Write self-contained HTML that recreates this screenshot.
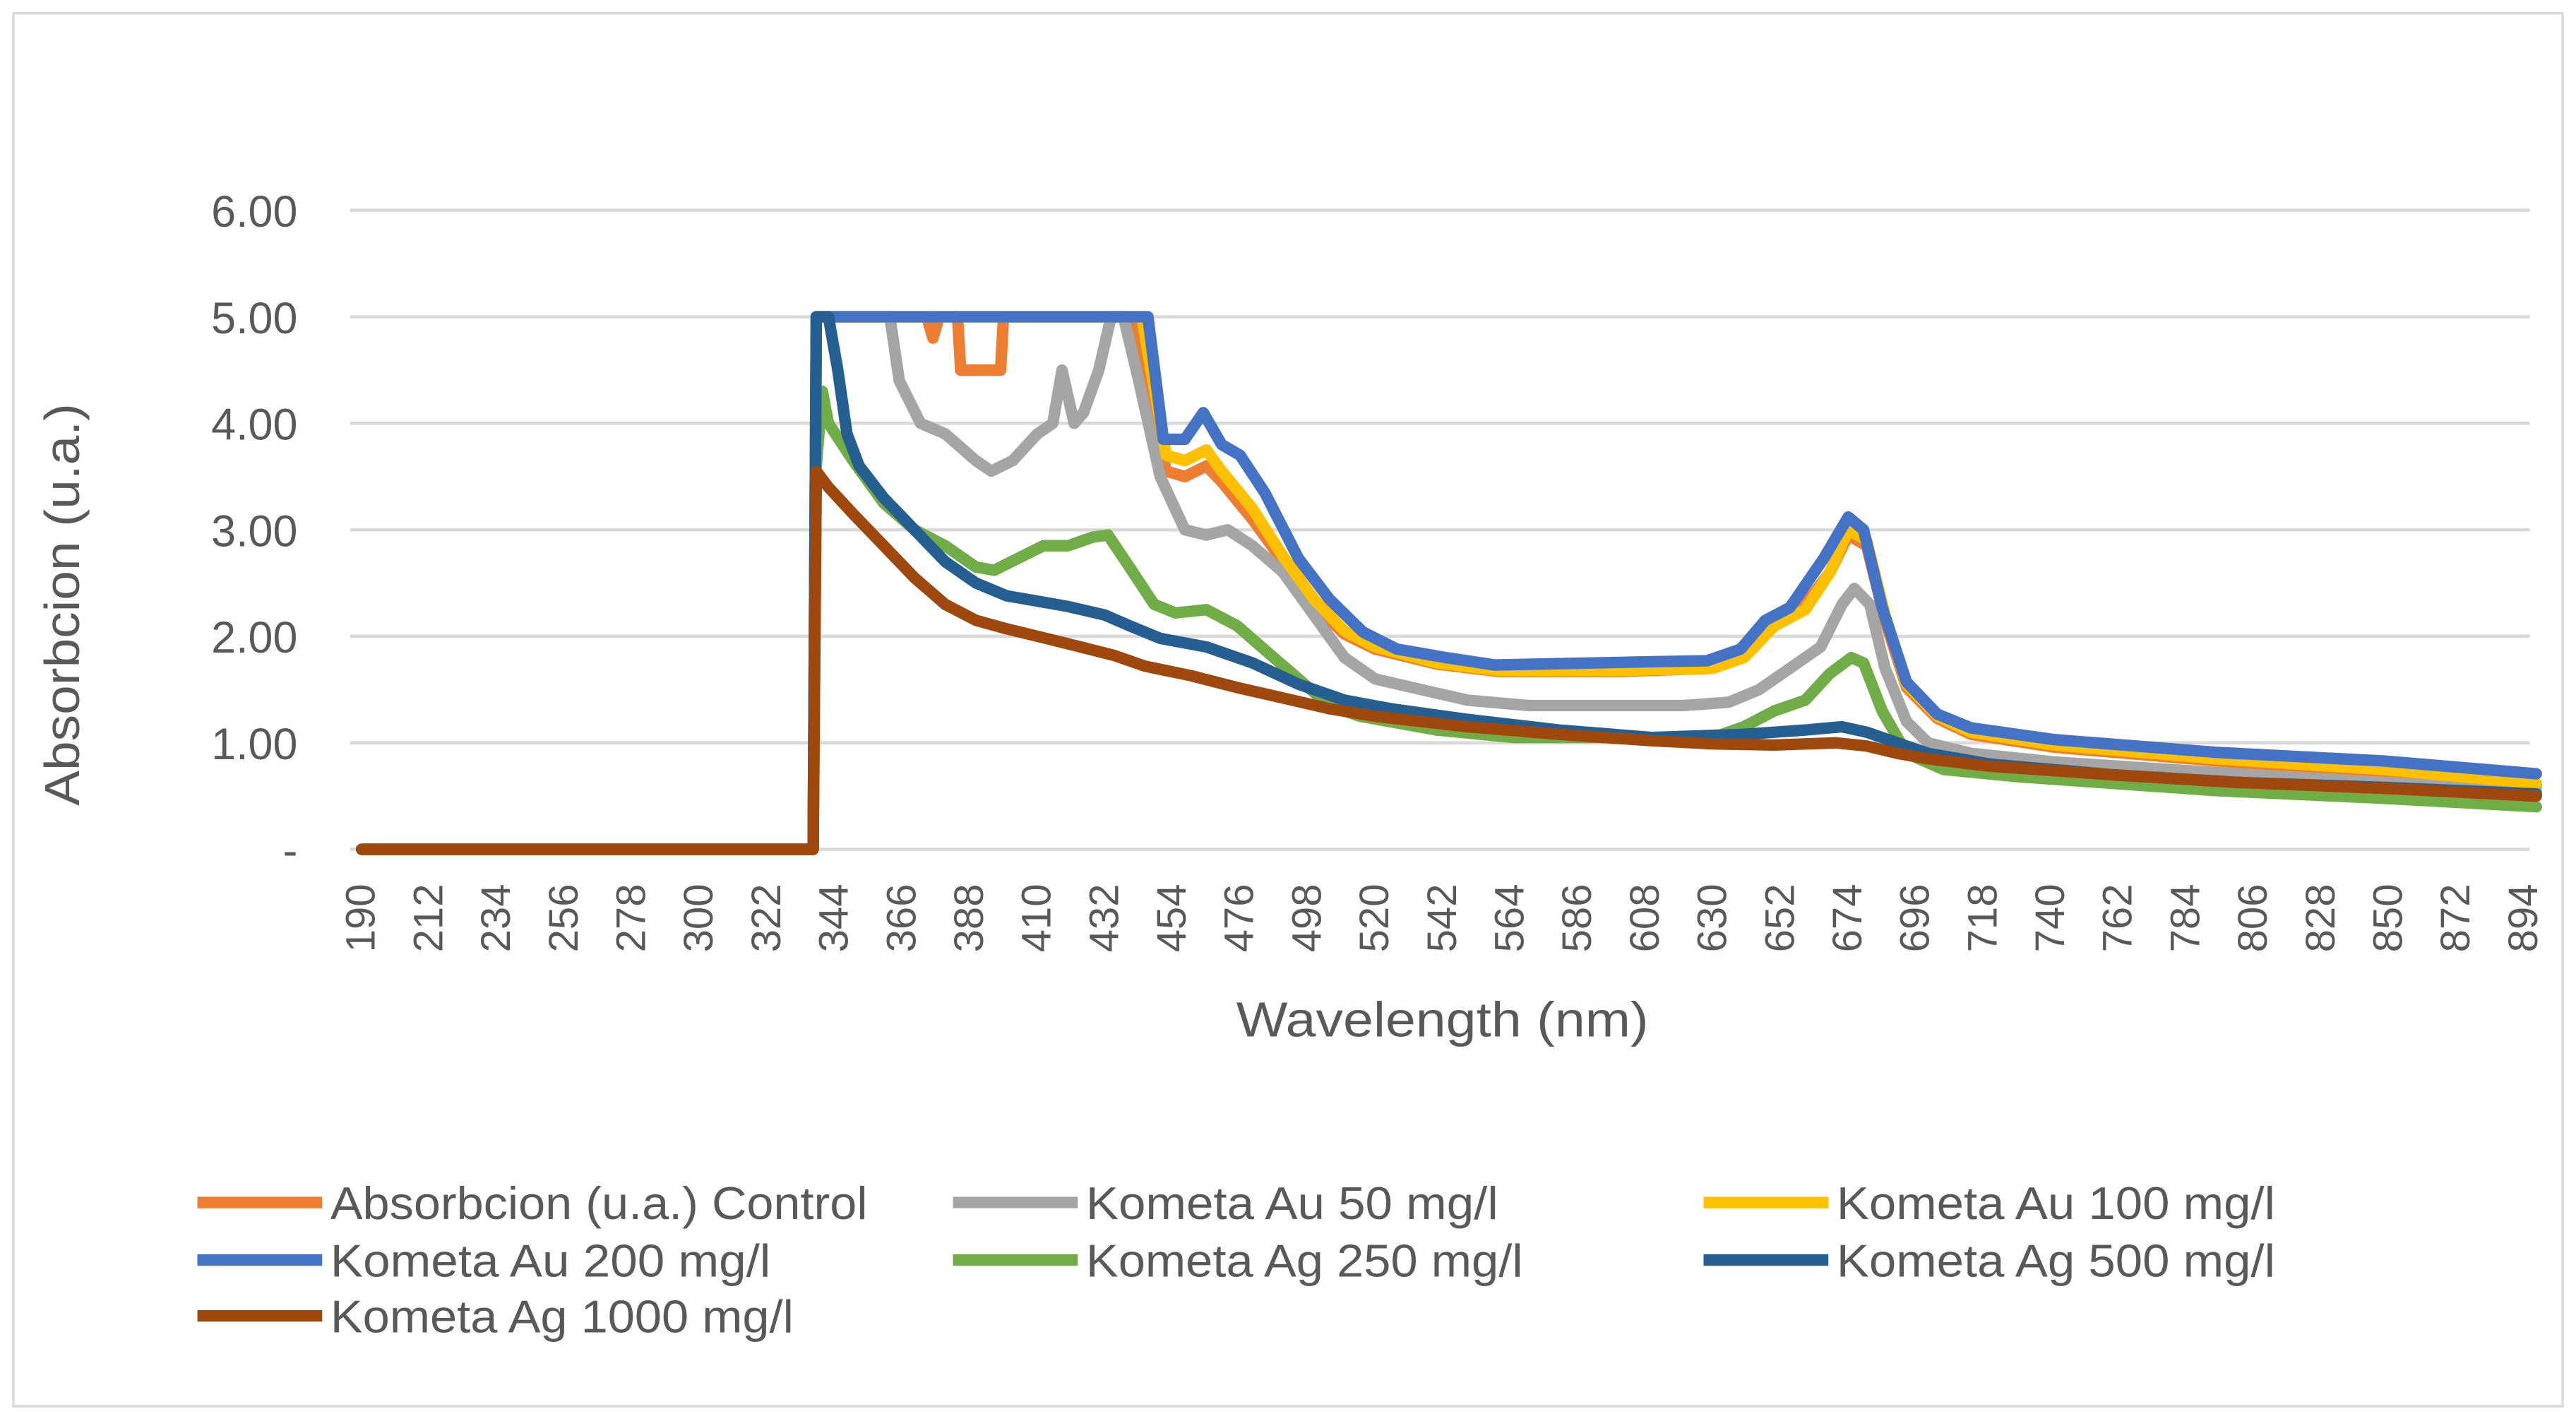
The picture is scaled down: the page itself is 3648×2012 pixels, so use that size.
<!DOCTYPE html>
<html><head><meta charset="utf-8"><style>
html,body{margin:0;padding:0;background:#fff}
svg{display:block}
text{font-family:"Liberation Sans",sans-serif}
</style></head><body>
<svg id="chart" width="3648" height="2012" viewBox="0 0 1568 865" xmlns="http://www.w3.org/2000/svg">
<rect x="8" y="8" width="1552" height="848" fill="#fff" stroke="#d9d9d9" stroke-width="1.5"/>
<g id="grid"></g>
<g id="yticks"></g>
<g id="xticks"></g>
<g id="series"></g>
<text x="0" y="0" transform="translate(48,368) rotate(-90)" text-anchor="middle" font-size="30" fill="#595959" textLength="245" lengthAdjust="spacingAndGlyphs">Absorbcion (u.a.)</text>
<text x="878" y="631" text-anchor="middle" font-size="30" fill="#595959" textLength="251" lengthAdjust="spacingAndGlyphs">Wavelength (nm)</text>
<g id="legend"></g>
</svg>
<script>
const yTicks=[0,1,2,3,4,5,6];
const yTickLabels=["-","1.00","2.00","3.00","4.00","5.00","6.00"];
const xTickValues=[190,212,234,256,278,300,322,344,366,388,410,432,454,476,498,520,542,564,586,608,630,652,674,696,718,740,762,784,806,828,850,872,894];
const seriesNames=["Absorbcion (u.a.) Control","Kometa Au 50 mg/l","Kometa Au 100 mg/l","Kometa Au 200 mg/l","Kometa Ag 250 mg/l","Kometa Ag 500 mg/l","Kometa Ag 1000 mg/l"];
const seriesColors=["#ED7D31","#A5A5A5","#FFC000","#4472C4","#70AD47","#255E91","#9E480E"];

const controlX=[190,337,338,374,376,378,384,385,398,399,442,446,452,458,465,470,480,490,500,510,520,540,560,600,630,640,650,660,668,674,680,686,693,703,714,741,794,848,898];
const controlY=[0,0,5,5,4.8,5,5,4.5,4.5,5,5,4.3,3.55,3.5,3.6,3.45,3.1,2.7,2.3,2.02,1.88,1.74,1.67,1.67,1.7,1.82,2.15,2.3,2.6,2.95,2.85,2.15,1.52,1.23,1.08,0.96,0.83,0.72,0.6];
const au50X=[190,337,338,362,365,372,380,390,395,402,410,415,418,422,425,430,434,438,443,450,458,465,472,480,490,500,510,520,535,550,570,620,635,645,655,665,672,676,681,686,693,700,714,741,794,848,898];
const au50Y=[0,0,5,5,4.4,4.0,3.9,3.65,3.55,3.65,3.9,4.0,4.5,4.0,4.1,4.5,5,5,4.4,3.5,3.0,2.95,3.0,2.85,2.6,2.2,1.8,1.6,1.5,1.4,1.35,1.35,1.38,1.5,1.7,1.9,2.3,2.45,2.3,1.7,1.2,1.0,0.9,0.82,0.72,0.63,0.55];
const au100X=[190,337,338,444,447,452,458,465,470,480,490,500,510,520,540,560,600,630,640,650,660,668,674,680,686,693,703,714,741,794,848,898];
const au100Y=[0,0,5,5,4.5,3.7,3.65,3.75,3.55,3.2,2.75,2.35,2.05,1.9,1.75,1.68,1.68,1.7,1.8,2.1,2.25,2.6,3.0,2.9,2.2,1.55,1.25,1.1,0.98,0.85,0.75,0.62];
const au200X=[190,337,338,446,451,458,464,470,476,484,495,505,516,527,543,559,607,628,639,647,655,666,674,679,685,693,703,714,741,794,848,898];
const au200Y=[0,0,5,5,3.85,3.85,4.1,3.8,3.7,3.35,2.73,2.35,2.04,1.88,1.8,1.73,1.76,1.77,1.88,2.15,2.27,2.73,3.12,3.0,2.27,1.57,1.27,1.14,1.03,0.91,0.83,0.71];
const ag250X=[190,337,338,340,342,350,360,370,380,390,396,405,412,420,428,433,440,448,455,465,475,485,495,505,515,540,565,600,630,640,650,660,668,675,679,685,693,705,730,794,848,898];
const ag250Y=[0,0,3.6,4.3,4.0,3.65,3.25,3.0,2.85,2.65,2.62,2.75,2.85,2.85,2.93,2.95,2.65,2.3,2.22,2.25,2.1,1.85,1.6,1.35,1.25,1.12,1.05,1.05,1.05,1.15,1.3,1.4,1.65,1.8,1.75,1.3,0.9,0.75,0.68,0.55,0.48,0.4];
const ag500X=[190,337,338,342,345,348,352,360,370,380,390,400,410,420,432,440,450,465,480,495,510,525,550,580,610,640,660,672,680,690,700,720,760,800,850,898];
const ag500Y=[0,0,5,5,4.5,3.9,3.6,3.3,3.0,2.7,2.5,2.38,2.33,2.28,2.2,2.1,1.98,1.9,1.75,1.55,1.4,1.32,1.22,1.12,1.05,1.08,1.12,1.15,1.1,1.0,0.9,0.8,0.7,0.63,0.58,0.52];
const ag1000X=[190,337,338,342,350,360,370,380,390,400,410,420,435,445,460,475,490,505,520,550,580,610,630,650,670,680,690,700,720,760,800,850,898];
const ag1000Y=[0,0,3.55,3.4,3.15,2.85,2.55,2.3,2.15,2.07,2.0,1.93,1.82,1.72,1.63,1.52,1.42,1.32,1.25,1.15,1.08,1.02,0.99,0.98,1.0,0.97,0.9,0.85,0.78,0.7,0.63,0.57,0.5];

const seriesX=[controlX,au50X,au100X,au200X,ag250X,ag500X,ag1000X];
const seriesY=[controlY,au50Y,au100Y,au200Y,ag250Y,ag500Y,ag1000Y];
const seriesKeys=["control","au-50","au-100","au-200","ag-250","ag-500","ag-1000"];

const NS="http://www.w3.org/2000/svg";
const X0=213,X1=1540,Y0=517,YTOP=128;
function xScale(nm){return 220+1.87*(nm-190);}
function yScale(v){return Y0-(Y0-YTOP)*v/6;}
function mk(tag,attrs,parent){const e=document.createElementNS(NS,tag);for(const k in attrs)e.setAttribute(k,attrs[k]);parent.appendChild(e);return e;}

const grid=document.getElementById('grid'),yt=document.getElementById('yticks'),xt=document.getElementById('xticks');
yTicks.forEach((v,i)=>{
  const l=mk('line',{x1:X0,x2:X1,y1:yScale(v),y2:yScale(v),stroke:'#d9d9d9','stroke-width':2},grid);
  
  
  const t=mk('text',{x:181,y:yScale(v)+10,'text-anchor':'end','font-size':27,fill:'#595959'},yt);
  t.textContent=yTickLabels[i];
  
  
});
xTickValues.forEach(v=>{
  const x=xScale(v);
  const t=mk('text',{x:0,y:0,transform:`translate(${x+8},538) rotate(-90)`,'text-anchor':'end','font-size':25,fill:'#595959'},xt);
  t.textContent=v;
  
  
});
const sg=document.getElementById('series');
seriesX.forEach((xs,i)=>{
  const ys=seriesY[i];
  const d=xs.map((x,j)=>(j?'L':'M')+xScale(x).toFixed(1)+' '+yScale(ys[j]).toFixed(1)).join(' ');
  const p=mk('path',{d:d,fill:'none',stroke:seriesColors[i],'stroke-width':7,'stroke-linejoin':'round','stroke-linecap':'round'},sg);
  
  
});
const lg=document.getElementById('legend');
const colX=[120,580,1037],rowY=[732,767,801];
const legendW=[327,251,267,268,266,267,282];
seriesNames.forEach((n,i)=>{
  const cx=colX[i%3],cy=rowY[Math.floor(i/3)];
  const g=mk('g',{},lg);
  
  
  mk('line',{x1:cx,x2:cx+76,y1:cy,y2:cy,stroke:seriesColors[i],'stroke-width':7},g);
  const t=mk('text',{x:cx+81,y:cy+10,'font-size':28,fill:'#595959',textLength:legendW[i],lengthAdjust:'spacingAndGlyphs'},g);
  t.textContent=n;
});
</script>
</body></html>
